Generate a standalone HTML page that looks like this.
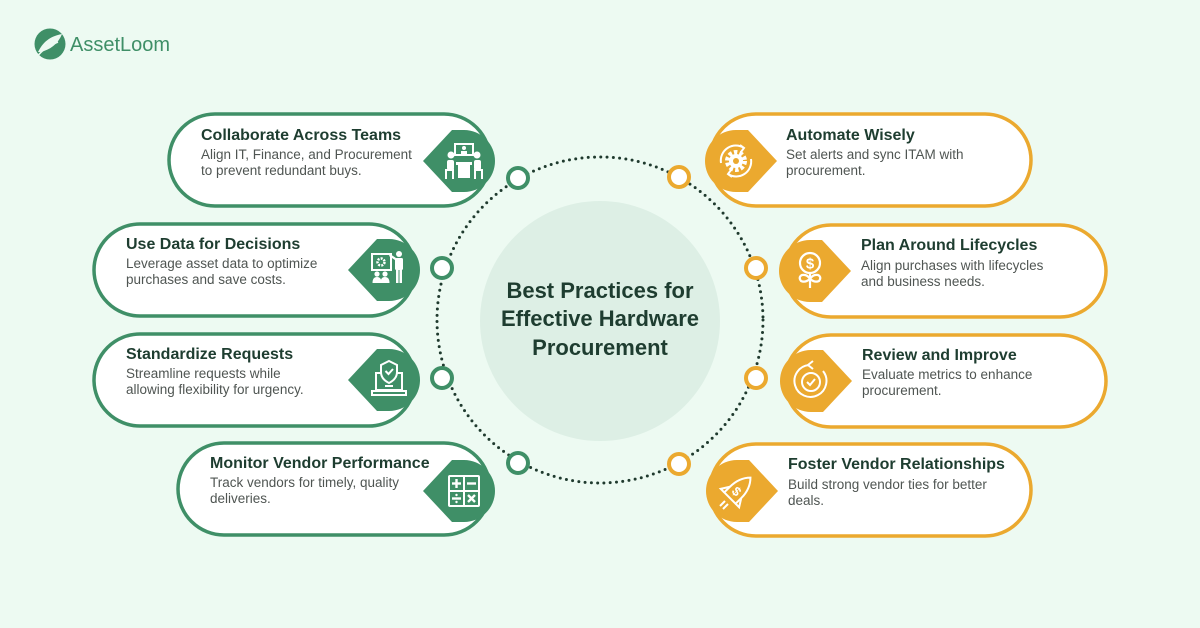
<!DOCTYPE html>
<html><head><meta charset="utf-8"><style>
html,body{margin:0;padding:0;background:#edfaf2;}
svg{display:block;}
text{font-family:"Liberation Sans",sans-serif;}
.t{font-size:16px;font-weight:bold;fill:#1e3d30;}
.d{font-size:13.5px;fill:#4f5552;}
.h{font-size:22px;font-weight:bold;fill:#1e3d30;}
</style></head><body>
<svg width="1200" height="628" viewBox="0 0 1200 628" xmlns="http://www.w3.org/2000/svg">
<rect width="1200" height="628" fill="#edfaf2"/>

<!-- Logo -->
<circle cx="50" cy="44" r="15.5" fill="#3f8f67"/>
<path d="M38 52 C 44 40, 52 36, 62 34 C 58 44, 50 50, 40 52 Z" fill="#edfaf2"/>
<path d="M36 58 C 42 50, 48 46, 58 42" stroke="#edfaf2" stroke-width="1.6" fill="none"/>
<text x="70" y="51" font-size="20" fill="#3f8f67">AssetLoom</text>

<!-- center -->
<circle cx="600" cy="321" r="120" fill="#ddefe5"/>
<circle cx="600" cy="320" r="163" fill="none" stroke="#1f3a2e" stroke-width="3" stroke-dasharray="0 6.3" stroke-linecap="round"/>
<text class="h" x="600" y="298" text-anchor="middle">Best Practices for</text>
<text class="h" x="600" y="326" text-anchor="middle">Effective Hardware</text>
<text class="h" x="600" y="355" text-anchor="middle">Procurement</text>

<!-- nodes -->
<g fill="#fff" stroke-width="4">
<circle cx="518" cy="178" r="10" stroke="#3f8f67"/>
<circle cx="442" cy="268" r="10" stroke="#3f8f67"/>
<circle cx="442" cy="378" r="10" stroke="#3f8f67"/>
<circle cx="518" cy="463" r="10" stroke="#3f8f67"/>
<circle cx="679" cy="177" r="10" stroke="#eba92f"/>
<circle cx="756" cy="268" r="10" stroke="#eba92f"/>
<circle cx="756" cy="378" r="10" stroke="#eba92f"/>
<circle cx="679" cy="464" r="10" stroke="#eba92f"/>
</g>

<!-- Left cards -->
<g fill="#fff" stroke="#3f8f67" stroke-width="3.5">
<rect x="169" y="114" width="321" height="92" rx="46"/>
<rect x="94" y="224" width="321" height="92" rx="46"/>
<rect x="94" y="334" width="321" height="92" rx="46"/>
<rect x="178" y="443" width="312" height="92" rx="46"/>
</g>
<!-- Right cards -->
<g fill="#fff" stroke="#eba92f" stroke-width="3.5">
<rect x="710" y="114" width="321" height="92" rx="46"/>
<rect x="785" y="225" width="321" height="92" rx="46"/>
<rect x="785" y="335" width="321" height="92" rx="46"/>
<rect x="710" y="444" width="321" height="92" rx="46"/>
</g>

<!-- Left texts -->
<text class="t" x="201" y="140">Collaborate Across Teams</text>
<text class="d" x="201" y="159">Align IT, Finance, and Procurement</text>
<text class="d" x="201" y="175">to prevent redundant buys.</text>

<text class="t" x="126" y="249">Use Data for Decisions</text>
<text class="d" x="126" y="268">Leverage asset data to optimize</text>
<text class="d" x="126" y="284">purchases and save costs.</text>

<text class="t" x="126" y="359">Standardize Requests</text>
<text class="d" x="126" y="378">Streamline requests while</text>
<text class="d" x="126" y="394">allowing flexibility for urgency.</text>

<text class="t" x="210" y="468">Monitor Vendor Performance</text>
<text class="d" x="210" y="487">Track vendors for timely, quality</text>
<text class="d" x="210" y="503">deliveries.</text>

<!-- Right texts -->
<text class="t" x="786" y="140">Automate Wisely</text>
<text class="d" x="786" y="159">Set alerts and sync ITAM with</text>
<text class="d" x="786" y="175">procurement.</text>

<text class="t" x="861" y="250">Plan Around Lifecycles</text>
<text class="d" x="861" y="270">Align purchases with lifecycles</text>
<text class="d" x="861" y="286">and business needs.</text>

<text class="t" x="862" y="360">Review and Improve</text>
<text class="d" x="862" y="379">Evaluate metrics to enhance</text>
<text class="d" x="862" y="395">procurement.</text>

<text class="t" x="788" y="469">Foster Vendor Relationships</text>
<text class="d" x="788" y="489">Build strong vendor ties for better</text>
<text class="d" x="788" y="505">deals.</text>

<!-- Left icons -->
<g id="L1" transform="translate(464,161)">
<path d="M-41 0 L-12 -31 L0 -31 A31 31 0 0 1 0 31 L-12 31 Z" fill="#3f8f67"/>
<g fill="none" stroke="#fff" stroke-width="2">
<rect x="-9" y="-17" width="18" height="11"/>
</g>
<g fill="#fff">
<circle cx="0" cy="-13" r="2"/><rect x="-3" y="-10" width="6" height="3"/>
<circle cx="-13" cy="-6" r="3.5"/><circle cx="13" cy="-6" r="3.5"/>
<rect x="-17" y="-1" width="7" height="10" rx="2"/><rect x="10" y="-1" width="7" height="10" rx="2"/>
<rect x="-8" y="1" width="16" height="3"/><rect x="-6" y="4" width="12" height="13"/>
<rect x="-19" y="8" width="2" height="10"/><rect x="-12" y="8" width="2" height="10"/>
<rect x="17" y="8" width="2" height="10"/><rect x="10" y="8" width="2" height="10"/>
<rect x="-19" y="8" width="9" height="2"/><rect x="10" y="8" width="9" height="2"/>
</g>
</g>

<g transform="translate(389,270)">
<path d="M-41 0 L-12 -31 L0 -31 A31 31 0 0 1 0 31 L-12 31 Z" fill="#3f8f67"/>
<rect x="-17" y="-16" width="19" height="16" fill="none" stroke="#fff" stroke-width="2"/>
<circle cx="-8" cy="-8" r="3.5" fill="none" stroke="#fff" stroke-width="2.5" stroke-dasharray="2 1.2"/>
<g fill="#fff">
<circle cx="10" cy="-16" r="3"/>
<rect x="6" y="-12" width="8" height="12" rx="1.5"/>
<rect x="7" y="-1" width="2.5" height="14"/><rect x="10.5" y="-1" width="2.5" height="14"/>
<path d="M6 -10 L0 -14 L1 -16 L7 -12 Z"/>
<circle cx="-12" cy="4" r="2.6"/><circle cx="-4" cy="4" r="2.6"/>
<path d="M-16.5 13 Q-16.5 7 -12 7 Q-7.5 7 -7.5 13 Z"/>
<path d="M-8.5 13 Q-8.5 7 -4 7 Q0.5 7 0.5 13 Z"/>
</g>
</g>

<g transform="translate(389,380)">
<path d="M-41 0 L-12 -31 L0 -31 A31 31 0 0 1 0 31 L-12 31 Z" fill="#3f8f67"/>
<g fill="none" stroke="#fff" stroke-width="2">
<rect x="-13" y="-7" width="26" height="17"/>
<path d="M-17 11 L17 11 L17 15 L-17 15 Z"/>
<path d="M0 -19 L8 -15 L8 -8 Q8 -1 0 3 Q-8 -1 -8 -8 L-8 -15 Z" fill="#3f8f67"/>
<path d="M-3.5 -9 L-0.5 -6 L4 -11"/>
<line x1="-4" y1="6" x2="4" y2="6"/>
</g>
</g>

<g transform="translate(464,491)">
<path d="M-41 0 L-12 -31 L0 -31 A31 31 0 0 1 0 31 L-12 31 Z" fill="#3f8f67"/>
<g fill="none" stroke="#fff" stroke-width="2">
<rect x="-15" y="-15" width="30" height="30" rx="1"/>
<line x1="0" y1="-15" x2="0" y2="15"/><line x1="-15" y1="0" x2="15" y2="0"/>
</g>
<g stroke="#fff" stroke-width="2.4" fill="none">
<line x1="-12" y1="-7.5" x2="-3" y2="-7.5"/><line x1="-7.5" y1="-12" x2="-7.5" y2="-3"/>
<line x1="3" y1="-7.5" x2="12" y2="-7.5"/>
<line x1="-12" y1="7.5" x2="-3" y2="7.5"/>
<line x1="4" y1="4" x2="11" y2="11"/><line x1="11" y1="4" x2="4" y2="11"/>
</g>
<circle cx="-7.5" cy="4" r="1.2" fill="#fff"/><circle cx="-7.5" cy="11" r="1.2" fill="#fff"/>
</g>

<!-- Right icons -->
<g transform="translate(736,161)">
<path d="M41 0 L12 -31 L0 -31 A31 31 0 0 0 0 31 L12 31 Z" fill="#eba92f"/>
<circle cx="0" cy="0" r="8.5" fill="none" stroke="#fff" stroke-width="5" stroke-dasharray="3.3 2.1"/>
<circle cx="0" cy="0" r="7" fill="#fff"/>
<circle cx="0" cy="0" r="3" fill="#eba92f"/>
<g fill="none" stroke="#fff" stroke-width="2">
<path d="M-15 2 A15 15 0 0 1 8 -13"/>
<path d="M15 -2 A15 15 0 0 1 -8 13"/>
<path d="M4 -16 L8 -13 L5 -9"/>
<path d="M-4 16 L-8 13 L-5 9"/>
</g>
</g>

<g transform="translate(810,271)">
<path d="M41 0 L12 -31 L0 -31 A31 31 0 0 0 0 31 L12 31 Z" fill="#eba92f"/>
<g fill="none" stroke="#fff" stroke-width="2.2">
<circle cx="0" cy="-8" r="10"/>
<line x1="0" y1="2" x2="0" y2="17"/>
<path d="M0 8 Q-3 3 -8 4 Q-12 6 -9 10 Q-5 12 0 8 Z"/>
<path d="M0 8 Q3 3 8 4 Q12 6 9 10 Q5 12 0 8 Z"/>
</g>
<text x="0" y="-2.5" text-anchor="middle" font-size="15" font-weight="bold" fill="#fff">$</text>
</g>

<g transform="translate(811,381)">
<path d="M41 0 L12 -31 L0 -31 A31 31 0 0 0 0 31 L12 31 Z" fill="#eba92f"/>
<g fill="none" stroke="#fff" stroke-width="2">
<path d="M-2 -16 A16 16 0 1 0 12 -10"/>
<path d="M2 -20 L-3 -16 L2 -12"/>
<circle cx="0" cy="1" r="9"/>
<path d="M-4 1 L-1 4 L4 -2"/>
</g>
</g>

<g transform="translate(737,491)">
<path d="M41 0 L12 -31 L0 -31 A31 31 0 0 0 0 31 L12 31 Z" fill="#eba92f"/>
<g transform="rotate(45)" fill="none" stroke="#fff" stroke-width="2">
<path d="M0 -19 Q8 -11 8 2 L8 10 L-8 10 L-8 2 Q-8 -11 0 -19 Z"/>
<path d="M-8 2 L-13 10 L-8 10"/><path d="M8 2 L13 10 L8 10"/>
</g>
<text x="0" y="5" text-anchor="middle" font-size="13" font-weight="bold" fill="#fff" transform="rotate(45)">$</text>
<g stroke="#fff" stroke-width="2">
<line x1="-12" y1="10" x2="-17" y2="15"/><line x1="-9" y1="13" x2="-14" y2="18"/>
</g>
</g>
</svg>
</body></html>
